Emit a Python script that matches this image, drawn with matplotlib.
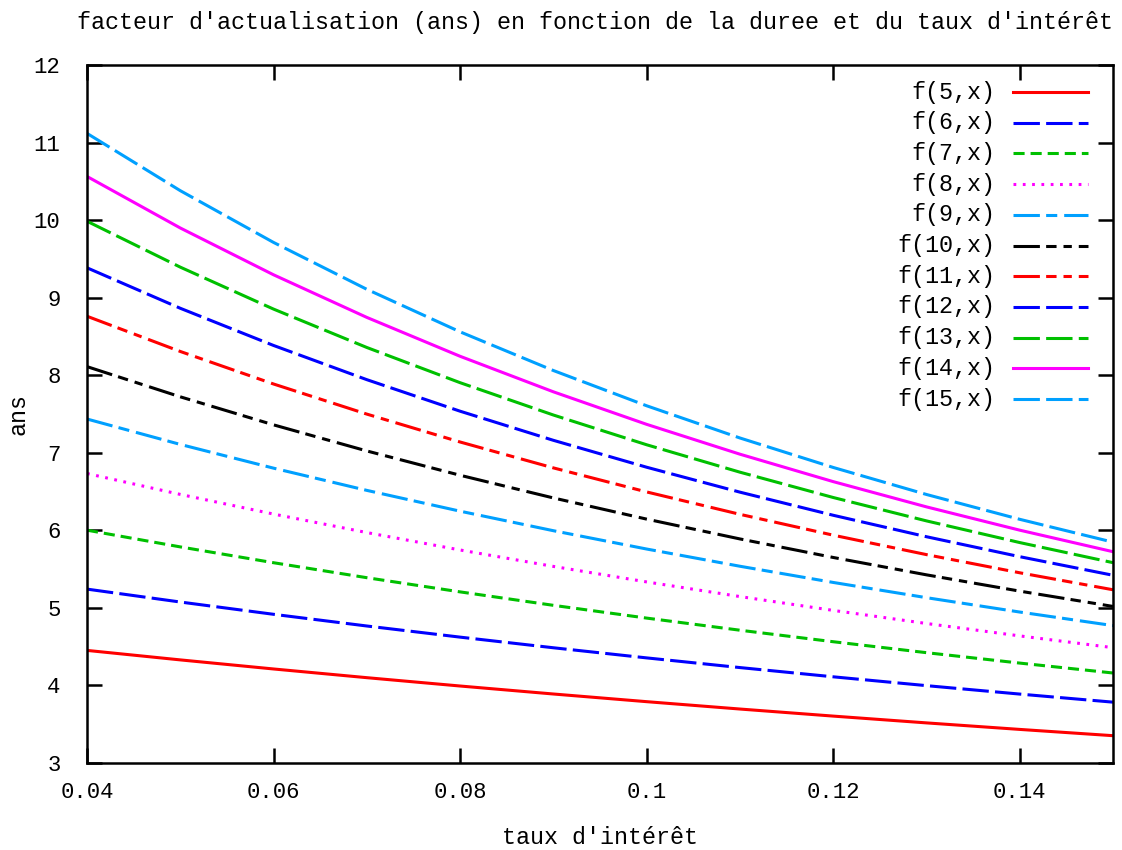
import matplotlib
matplotlib.use("Agg")
import matplotlib.pyplot as plt

plt.rcParams['font.family'] = ['Liberation Mono', 'DejaVu Sans Mono']
plt.rcParams['lines.scale_dashes'] = False

rates = [0.04, 0.05, 0.06, 0.07, 0.08, 0.09, 0.10, 0.11, 0.12, 0.13, 0.14, 0.15]

f5 = [4.4518, 4.3295, 4.2124, 4.1002, 3.9927, 3.8897, 3.7908, 3.6959, 3.6048, 3.5172, 3.4331, 3.3522]
f6 = [5.2421, 5.0757, 4.9173, 4.7665, 4.6229, 4.4859, 4.3553, 4.2305, 4.1114, 3.9975, 3.8887, 3.7845]
f7 = [6.0021, 5.7864, 5.5824, 5.3893, 5.2064, 5.0330, 4.8684, 4.7122, 4.5638, 4.4226, 4.2883, 4.1604]
f8 = [6.7327, 6.4632, 6.2098, 5.9713, 5.7466, 5.5348, 5.3349, 5.1461, 4.9676, 4.7988, 4.6389, 4.4873]
f9 = [7.4353, 7.1078, 6.8017, 6.5152, 6.2469, 5.9952, 5.7590, 5.5370, 5.3282, 5.1317, 4.9464, 4.7716]
f10 = [8.1109, 7.7217, 7.3601, 7.0236, 6.7101, 6.4177, 6.1446, 5.8892, 5.6502, 5.4262, 5.2161, 5.0188]
f11 = [8.7605, 8.3064, 7.8869, 7.4987, 7.1390, 6.8052, 6.4951, 6.2065, 5.9377, 5.6869, 5.4527, 5.2337]
f12 = [9.3851, 8.8633, 8.3838, 7.9427, 7.5361, 7.1607, 6.8137, 6.4924, 6.1944, 5.9176, 5.6603, 5.4206]
f13 = [9.9856, 9.3936, 8.8527, 8.3577, 7.9038, 7.4869, 7.1034, 6.7499, 6.4235, 6.1218, 5.8424, 5.5831]
f14 = [10.5631, 9.8986, 9.2950, 8.7455, 8.2442, 7.7862, 7.3667, 6.9819, 6.6282, 6.3025, 6.0021, 5.7245]
f15 = [11.1184, 10.3797, 9.7122, 9.1079, 8.5595, 8.0607, 7.6061, 7.1909, 6.8109, 6.4624, 6.1422, 5.8474]

labels = ['f(5,x)', 'f(6,x)', 'f(7,x)', 'f(8,x)', 'f(9,x)', 'f(10,x)',
          'f(11,x)', 'f(12,x)', 'f(13,x)', 'f(14,x)', 'f(15,x)']
series = [f5, f6, f7, f8, f9, f10, f11, f12, f13, f14, f15]
colors = ['#ff0000', '#0000ff', '#00c000', '#ff00ff', '#00a0ff', '#000000',
          '#ff0000', '#0000ff', '#00c000', '#ff00ff', '#00a0ff']
dashes = [None, (19, 4.5), (8, 4.3), (2, 4.7), (19, 4.5, 8, 5),
          (19, 4.5, 7.5, 5, 6, 5), (19, 4.5, 7.5, 5, 6, 5),
          (19, 4.5), (19, 4.5), None, (19, 4.5)]

W, H = 1122, 850
fig = plt.figure(figsize=(W / 100, H / 100), dpi=100)
L, R, T, B = 87, 1113, 65, 763
ax = fig.add_axes([L / W, 1 - B / H, (R - L) / W, (B - T) / H])

lw = 2.2
for ys, c, d in zip(series, colors, dashes):
    line, = ax.plot(rates, ys, color=c, lw=lw, solid_joinstyle='round')
    if d is not None:
        line.set_dashes(d)

ax.set_xlim(0.04, 0.15)
ax.set_ylim(3, 12)
ax.set_xticks([0.04, 0.06, 0.08, 0.10, 0.12, 0.14])
ax.set_xticklabels(['0.04', '0.06', '0.08', '0.1', '0.12', '0.14'])
ax.set_yticks(range(3, 13))
ax.tick_params(direction='in', length=11, width=1.8, top=True, right=True,
               labelsize=16)
ax.tick_params(axis='x', pad=14)
ax.tick_params(axis='y', pad=19)
for s in ax.spines.values():
    s.set_linewidth(1.8)

ax.set_xlabel("taux d'intérêt", fontsize=16.8, labelpad=16)
ax.set_ylabel('ans', fontsize=16.8, labelpad=3)
ax.set_title("facteur d'actualisation (ans) en fonction de la duree et du taux d'intérêt",
             fontsize=16.8, pad=26, x=0.495)

# legend (manual, gnuplot style)
x_text = (995 - L) / (R - L)
x0 = (1013 - L) / (R - L)
x1 = (1088 - L) / (R - L)
for i, (lab, c, d) in enumerate(zip(labels, colors, dashes)):
    ypx = 92 + 30.7 * i
    yf = (B - ypx) / (B - T)
    ax.text(x_text, yf, lab, transform=ax.transAxes, ha='right', va='center',
            fontsize=16.8)
    ln, = ax.plot([x0, x1], [yf, yf], transform=ax.transAxes, color=c, lw=lw,
                  clip_on=False)
    if d is not None:
        ln.set_dashes(d)

fig.savefig('out.png', dpi=100)
